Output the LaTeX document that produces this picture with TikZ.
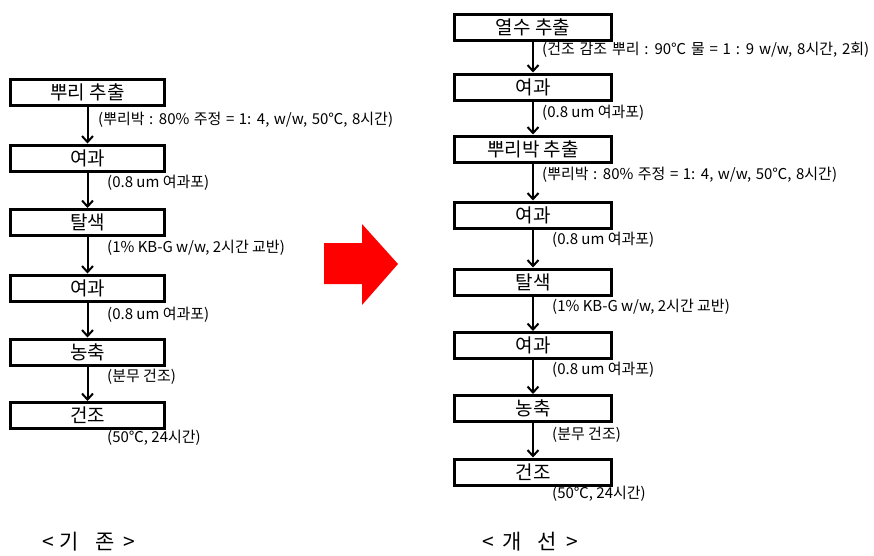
\documentclass[tikz,border=0pt]{standalone}
\usepackage{fontspec}
\setmainfont{Noto Sans CJK KR}
\usetikzlibrary{arrows.meta}
\begin{document}
\begin{tikzpicture}[x=1pt,y=-1pt,
  stepbox/.style={draw=black,line width=3pt,minimum height=26pt,inner sep=0pt,font=\fontsize{19}{19}\selectfont},
  lbox/.style={stepbox,minimum width=154pt},
  rbox/.style={stepbox,minimum width=157pt},
  note/.style={anchor=west,inner sep=0pt,font=\fontsize{15}{15}\selectfont},
  flow/.style={line width=2pt,-{Straight Barb[length=6pt,width=11pt,line width=2pt]}},
  captext/.style={inner sep=0pt,font=\fontsize{21}{21}\selectfont}]
\useasboundingbox (0,0) rectangle (874,555);
% left column
\node[lbox] (a1) at (87.5,92) {뿌리 추출};
\node[lbox] (a2) at (87.5,158) {여과};
\node[lbox] (a3) at (87.5,222.5) {탈색};
\node[lbox] (a4) at (87.5,288) {여과};
\node[lbox] (a5) at (87.5,352) {농축};
\node[lbox] (a6) at (87.5,415.5) {건조};
\foreach \i/\j in {a1/a2,a2/a3,a3/a4,a4/a5,a5/a6} \draw[flow] (\i) -- (\j);
\node[note] (n1) at (98,120) {\spaceskip=4.5pt (뿌리박 : 80\% 주정 = 1: 4, w/w, 50℃, 8시간)};
\node[note] (n2) at (107,183) {(0.8 um 여과포)};
\node[note] (n3) at (107,248) {(1\% KB-G w/w, 2시간 교반)};
\node[note] (n4) at (107,315) {(0.8 um 여과포)};
\node[note] (n5) at (107,377) {(분무 건조)};
\node[note] (n6) at (107,438) {(50℃, 24시간)};
% right column
\node[rbox] (b1) at (533,27.5) {열수 추출};
\node[rbox] (b2) at (533,87) {여과};
\node[rbox] (b3) at (533,149) {뿌리박 추출};
\node[rbox] (b4) at (533,215) {여과};
\node[rbox] (b5) at (533,282) {탈색};
\node[rbox] (b6) at (533,345.5) {여과};
\node[rbox] (b7) at (533,408.5) {농축};
\node[rbox] (b8) at (533,472) {건조};
\foreach \i/\j in {b1/b2,b2/b3,b3/b4,b4/b5,b5/b6,b6/b7,b7/b8} \draw[flow] (\i) -- (\j);
\node[note] (m1) at (542,50) {\spaceskip=4.8pt (건조 감조 뿌리 : 90℃ 물 = 1 : 9 w/w, 8시간, 2회)};
\node[note] (m2) at (542,113) {(0.8 um 여과포)};
\node[note] (m3) at (542,175) {\spaceskip=4.5pt (뿌리박 : 80\% 주정 = 1: 4, w/w, 50℃, 8시간)};
\node[note] (m4) at (552,240) {(0.8 um 여과포)};
\node[note] (m5) at (552,307) {(1\% KB-G w/w, 2시간 교반)};
\node[note] (m6) at (552,370) {(0.8 um 여과포)};
\node[note] (m7) at (552,435) {(분무 건조)};
\node[note] (m8) at (552,494) {(50℃, 24시간)};
% red arrow
\fill[red] (324,243) -- (362,243) -- (362,224) -- (398,264) -- (362,305) -- (362,284) -- (324,284) -- cycle;
% captions
\node[captext] (c1) at (88.5,542) {<\hspace{6pt}기\hspace{17pt}존\hspace{8pt}>};
\node[captext] (c2) at (530,542) {<\hspace{9pt}개\hspace{16pt}선\hspace{9pt}>};
\end{tikzpicture}
\end{document}
